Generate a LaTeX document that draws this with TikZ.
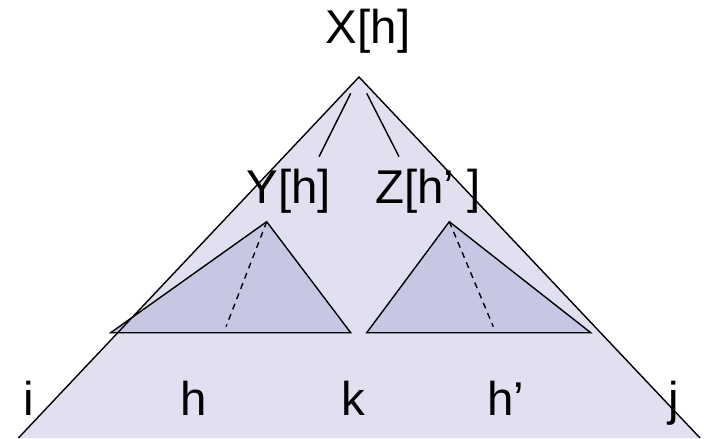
\documentclass[tikz,border=0pt]{standalone}
\usepackage{fontspec}
\setmainfont{Liberation Sans}
\definecolor{outerfill}{RGB}{224,224,240}
\definecolor{innerfill}{RGB}{199,199,227}
\tikzset{
  tag/.style={anchor=base,inner sep=0pt,font=\fontsize{23.7}{28}\selectfont},
  side/.style={line width=0.7pt},
  subtree/.style={draw,fill=innerfill,line width=0.7pt,line join=miter},
  headpath/.style={dash pattern=on 3pt off 2.5pt,line width=0.7pt}
}
\begin{document}
\begin{tikzpicture}[x=0.5pt,y=-0.5pt,
  link/.style={line width=0.7pt}
]
  \useasboundingbox (0,0) rectangle (704,438);
  % outer span i..j
  \coordinate (top) at (359,77);
  \coordinate (bl) at (18.4,438);
  \coordinate (br) at (700,438);
  \fill[outerfill] (top) -- (bl) -- (br) -- cycle;
  % left and right sub-spans
  \coordinate (ytop) at (266.7,221.7);
  \coordinate (yleft) at (110.7,332.7);
  \coordinate (yright) at (350.7,332.7);
  \coordinate (yfoot) at (226,326.7);
  \coordinate (ztop) at (449.3,221.7);
  \coordinate (zleft) at (366.7,332.7);
  \coordinate (zright) at (590.7,332.7);
  \coordinate (zfoot) at (493.3,326.7);
  \draw[subtree] (ytop) -- (yleft) -- (yright) -- cycle;
  \draw[subtree] (ztop) -- (zleft) -- (zright) -- cycle;
  \draw[headpath] (ytop) -- (yfoot);
  \draw[headpath] (ztop) -- (zfoot);
  \draw[side] (bl) -- (top) -- (br);
  % labels
  \node[tag] (xh) at (368,43.3) {X[h]};
  \node[tag] (yh) at (289,203.3) {Y[h]};
  \node[tag] (zh) at (428,203.3) {Z[h’ ]};
  \node[tag] (ni) at (29,415) {i};
  \node[tag] (nh) at (194,415) {h};
  \node[tag] (nk) at (353,415) {k};
  \node[tag] (nhp) at (506,415) {h’};
  \node[tag] (nj) at (674,415) {j};
  % rule X -> Y Z
  \coordinate (xl) at (350.7,93.3);
  \coordinate (xr) at (366.7,93.3);
  \coordinate (yl) at (319,156.7);
  \coordinate (zl) at (399,156.7);
  \draw[link] (xl) -- (yl);
  \draw[link] (xr) -- (zl);
\end{tikzpicture}
\end{document}
